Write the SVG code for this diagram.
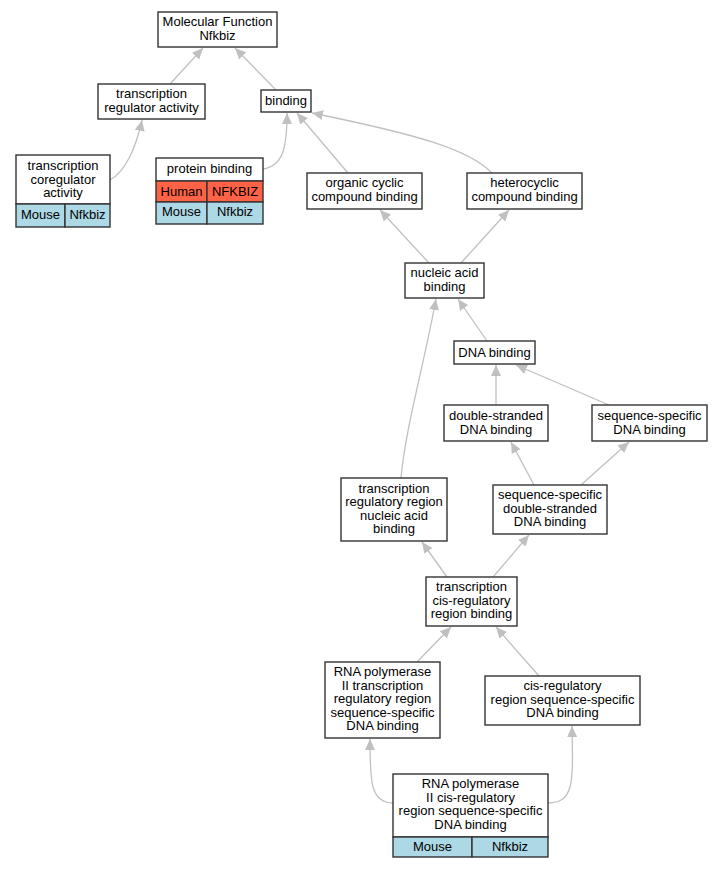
<svg xmlns="http://www.w3.org/2000/svg" width="723" height="869" viewBox="0 0 723 869">
<defs>
<marker id="ah" markerWidth="11" markerHeight="11" refX="11" refY="5.5" orient="auto" markerUnits="userSpaceOnUse"><path d="M0,0.5 L11,5.5 L0,10.5 z" fill="#c0c0c0"/></marker>
<style>
.b{fill:#fff;stroke:#333;stroke-width:1.4}
.h{fill:#ff6347;stroke:#333;stroke-width:1.4}
.m{fill:#add8e6;stroke:#333;stroke-width:1.4}
text{font-family:"Liberation Sans",Arial,sans-serif;font-size:13px;fill:#000;text-anchor:middle}
.e path{fill:none;stroke:#c0c0c0;stroke-width:1.3;marker-end:url(#ah)}
</style>
</defs>
<rect width="723" height="869" fill="#fff"/>
<g class="e" id="edges">
<path d="M170,84 L203,48"/>
<path d="M276,90 L235,48"/>
<path d="M110,180 C125,172 136,148 142,120"/>
<path d="M263,169 C283,166 287,148 287,113"/>
<path d="M348,173 L297,113"/>
<path d="M492,173 C470,150 420,135 312,113"/>
<path d="M429,263 L380,210"/>
<path d="M461,263 L509,210"/>
<path d="M487,341 L458,299"/>
<path d="M401,478 C405,430 425,360 436,299"/>
<path d="M496,405 L496,365"/>
<path d="M609,405 L516,365"/>
<path d="M534,485 L511,442"/>
<path d="M581,485 L629,442"/>
<path d="M447,577 L422,542"/>
<path d="M493,577 L529,535"/>
<path d="M417,662 L451,627"/>
<path d="M539,676 L496,627"/>
<path d="M393,803 C370,803 370,780 370,739"/>
<path d="M548,803 C575,803 573,780 572,726"/>
</g>
<g id="n_mf"><rect class="b" x="158" y="12" width="119" height="35"/><text x="217.5" y="26">Molecular Function</text><text x="217.5" y="40">Nfkbiz</text></g>
<g id="n_tra"><rect class="b" x="98" y="84" width="107" height="35"/><text x="151.5" y="98">transcription</text><text x="151.5" y="112">regulator activity</text></g>
<g id="n_bind"><rect class="b" x="261" y="90" width="50" height="22"/><text x="286" y="105">binding</text></g>
<g id="n_tca"><rect class="b" x="16" y="155" width="94" height="49"/><text x="63" y="170">transcription</text><text x="63" y="184">coregulator</text><text x="63" y="197">activity</text>
<rect class="m" x="16" y="204" width="49" height="23"/><rect class="m" x="65" y="204" width="45" height="23"/><text x="40.5" y="219">Mouse</text><text x="87.5" y="219">Nfkbiz</text></g>
<g id="n_pb"><rect class="b" x="156" y="158" width="107" height="23"/><text x="209.5" y="173">protein binding</text>
<rect class="h" x="156" y="181" width="51" height="21"/><rect class="h" x="207" y="181" width="56" height="21"/><text x="181.5" y="196">Human</text><text x="235" y="196">NFKBIZ</text>
<rect class="m" x="156" y="202" width="51" height="22"/><rect class="m" x="207" y="202" width="56" height="22"/><text x="181.5" y="216">Mouse</text><text x="235" y="216">Nfkbiz</text></g>
<g id="n_occ"><rect class="b" x="307" y="173" width="115" height="36"/><text x="364.5" y="187">organic cyclic</text><text x="364.5" y="201">compound binding</text></g>
<g id="n_het"><rect class="b" x="467" y="173" width="115" height="36"/><text x="524.5" y="187">heterocyclic</text><text x="524.5" y="201">compound binding</text></g>
<g id="n_nab"><rect class="b" x="405" y="263" width="79" height="35"/><text x="444.5" y="277">nucleic acid</text><text x="444.5" y="291">binding</text></g>
<g id="n_dna"><rect class="b" x="454" y="341" width="81" height="23"/><text x="494.5" y="357">DNA binding</text></g>
<g id="n_ds"><rect class="b" x="444" y="405" width="104" height="36"/><text x="496" y="420">double-stranded</text><text x="496" y="434">DNA binding</text></g>
<g id="n_ss"><rect class="b" x="592" y="405" width="115" height="36"/><text x="649.5" y="420">sequence-specific</text><text x="649.5" y="434">DNA binding</text></g>
<g id="n_trr"><rect class="b" x="341" y="478" width="106" height="63"/><text x="394" y="493">transcription</text><text x="394" y="506">regulatory region</text><text x="394" y="520">nucleic acid</text><text x="394" y="533">binding</text></g>
<g id="n_ssds"><rect class="b" x="493" y="485" width="114" height="49"/><text x="550" y="499">sequence-specific</text><text x="550" y="513">double-stranded</text><text x="550" y="526">DNA binding</text></g>
<g id="n_tcr"><rect class="b" x="426" y="577" width="91" height="49"/><text x="471.5" y="591">transcription</text><text x="471.5" y="605">cis-regulatory</text><text x="471.5" y="618">region binding</text></g>
<g id="n_rp2"><rect class="b" x="325" y="662" width="115" height="76"/><text x="382.5" y="676">RNA polymerase</text><text x="382.5" y="690">II transcription</text><text x="382.5" y="703">regulatory region</text><text x="382.5" y="717">sequence-specific</text><text x="382.5" y="730">DNA binding</text></g>
<g id="n_cis"><rect class="b" x="485" y="676" width="155" height="49"/><text x="562.5" y="690">cis-regulatory</text><text x="562.5" y="704">region sequence-specific</text><text x="562.5" y="717">DNA binding</text></g>
<g id="n_rp2cis"><rect class="b" x="393" y="774" width="155" height="63"/><text x="470.5" y="788">RNA polymerase</text><text x="470.5" y="802">II cis-regulatory</text><text x="470.5" y="815">region sequence-specific</text><text x="470.5" y="829">DNA binding</text>
<rect class="m" x="393" y="837" width="79" height="20"/><rect class="m" x="472" y="837" width="76" height="20"/><text x="432.5" y="851">Mouse</text><text x="510" y="851">Nfkbiz</text></g>
</svg>
